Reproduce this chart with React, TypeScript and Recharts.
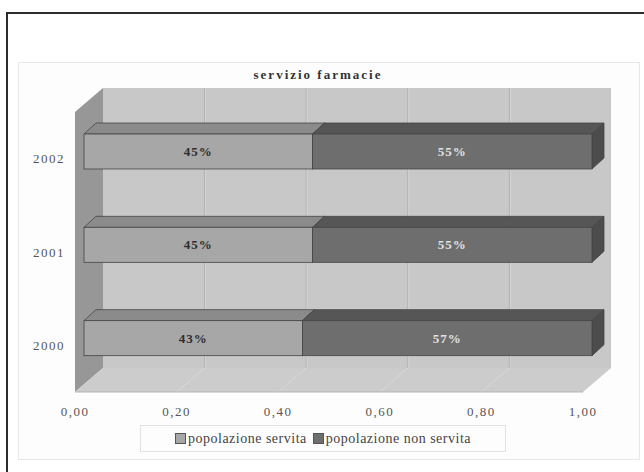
import { BarChart, Bar, XAxis, YAxis, ReferenceArea, Legend, LabelList } from 'recharts';

// servizio farmacie: share of population served, per year
const years = ['2002', '2001', '2000'];
const servita = [0.45, 0.45, 0.43];
const nonServita = [0.55, 0.55, 0.57];
const xTicks = [0, 0.2, 0.4, 0.6, 0.8, 1];
const seriesNames = ['popolazione servita', 'popolazione non servita'];

const data = years.map((anno, i) => ({ anno, servita: servita[i], nonServita: nonServita[i] }));

const SERIF = '"Liberation Serif", "Times New Roman", serif';

// 3D box depth (walls) and the offset of the bars inside the box
const WALL_DX = 28;
const WALL_DY = 24;
const BAR_DX = 9;
const BAR_DY = -7;
const DEPTH_X = 12;
const DEPTH_Y = 11;

const fmtTick = (v: number) => v.toFixed(2).replace('.', ',');

function Box3D(props: any) {
  const { x, y, width, height } = props;
  const bx = x + WALL_DX;
  const by = y - WALL_DY;
  const bottom = y + height;
  return (
    <g>
      <rect x={bx} y={by} width={width} height={height} fill="#c8c8c8" />
      {xTicks.slice(1, -1).map((t) => (
        <g key={t}>
          <line x1={bx + t * width} y1={by} x2={bx + t * width} y2={by + height} stroke="#b0b0b0" strokeWidth={1} />
          <line x1={bx + t * width + 1} y1={by} x2={bx + t * width + 1} y2={by + height} stroke="#d4d4d4" strokeWidth={1} />
        </g>
      ))}
      <polygon
        points={`${x},${y} ${bx},${by} ${bx},${by + height} ${x},${bottom}`}
        fill="#979797"
      />
      <polygon
        points={`${x},${bottom} ${x + width},${bottom} ${bx + width},${by + height} ${bx},${by + height}`}
        fill="#cccccc"
      />
      {xTicks.slice(1, -1).map((t) => (
        <line
          key={`f${t}`}
          x1={x + t * width}
          y1={bottom}
          x2={bx + t * width}
          y2={by + height}
          stroke="#d9d9d9"
          strokeWidth={1}
        />
      ))}
      <line x1={x} y1={bottom} x2={x + width} y2={bottom} stroke="#b5b5b5" strokeWidth={1} />
    </g>
  );
}

function Bar3D(props: any) {
  const { x, y, width, height, front, top, side } = props;
  if (!width || !height) return null;
  const fx = x + BAR_DX;
  const fy = y + BAR_DY;
  const stroke = '#454545';
  return (
    <g>
      <polygon
        points={`${fx},${fy} ${fx + DEPTH_X},${fy - DEPTH_Y} ${fx + width + DEPTH_X},${fy - DEPTH_Y} ${fx + width},${fy}`}
        fill={top}
        stroke={stroke}
        strokeWidth={0.8}
      />
      <polygon
        points={`${fx + width},${fy} ${fx + width + DEPTH_X},${fy - DEPTH_Y} ${fx + width + DEPTH_X},${fy + height - DEPTH_Y} ${fx + width},${fy + height}`}
        fill={side}
        stroke={stroke}
        strokeWidth={0.8}
      />
      <rect x={fx} y={fy} width={width} height={height} fill={front} stroke={stroke} strokeWidth={0.8} />
    </g>
  );
}

const pctLabel = (color: string) => (p: any) => {
  const { x, y, width, height, value } = p;
  return (
    <text
      x={x + width / 2 + BAR_DX}
      y={y + height / 2 + BAR_DY}
      textAnchor="middle"
      dominantBaseline="central"
      fill={color}
      fontSize={13}
      letterSpacing={1}
      fontWeight="bold"
      style={{ fontFamily: SERIF }}
    >
      {Math.round(value * 100)}%
    </text>
  );
};

function XTick(p: any) {
  return (
    <text x={p.x} y={p.y + 10} textAnchor="middle" fill="#555" fontSize={13} letterSpacing={1.5} style={{ fontFamily: SERIF }}>
      {fmtTick(p.payload.value)}
    </text>
  );
}

function YTick(p: any) {
  return (
    <text x={p.x} y={p.y} textAnchor="end" dominantBaseline="central" fill="#555" fontSize={13} letterSpacing={1.5} style={{ fontFamily: SERIF }}>
      {p.payload.value}
    </text>
  );
}

function LegendBox(props: any) {
  const items = [...(props.payload || [])].sort(
    (a: any, b: any) => seriesNames.indexOf(a.value) - seriesNames.indexOf(b.value)
  );
  return (
    <div
      style={{
        display: 'flex',
        justifyContent: 'center',
        alignItems: 'center',
        gap: 6,
        height: 25,
        border: '1px solid #e2e2e2',
        fontFamily: SERIF,
        fontSize: 14,
        letterSpacing: 0.5,
        color: '#444',
      }}
    >
      {items.map((item: any) => (
        <span key={item.value} style={{ display: 'flex', alignItems: 'center' }}>
          <span
            style={{
              display: 'inline-block',
              width: 9,
              height: 9,
              background: item.color,
              border: '1px solid #555',
              marginRight: 2,
            }}
          />
          {item.value}
        </span>
      ))}
    </div>
  );
}

export default function App() {
  return (
    <div
      style={{
        position: 'absolute',
        left: 0,
        top: 0,
        width: 644,
        height: 472,
        overflow: 'hidden',
        background: '#fff',
        fontFamily: SERIF,
      }}
    >
      <div
        style={{
          position: 'absolute',
          left: 6,
          top: 12,
          width: 700,
          height: 500,
          borderTop: '2px solid #2c2c2c',
          borderLeft: '2px solid #2c2c2c',
        }}
      />
      <div
        style={{
          position: 'absolute',
          left: 18,
          top: 62,
          width: 620,
          height: 396,
          border: '1px solid #e8e8e8',
          background: '#fdfdfd',
        }}
      />
      <div
        style={{
          position: 'absolute',
          left: 218,
          top: 67,
          width: 200,
          textAlign: 'center',
          fontWeight: 'bold',
          fontSize: 13,
          letterSpacing: 2,
          color: '#333',
        }}
      >
        servizio farmacie
      </div>
      <div style={{ position: 'absolute', left: 0, top: 0 }}>
        <BarChart
          width={644}
          height={472}
          data={data}
          layout="vertical"
          margin={{ top: 112, right: 61, bottom: 50, left: 25 }}
          barSize={35}
          style={{ fontFamily: SERIF }}
        >
          <ReferenceArea x1={0} x2={1} shape={<Box3D />} ifOverflow="visible" />
          <XAxis
            type="number"
            domain={[0, 1]}
            ticks={xTicks}
            height={30}
            tickLine={false}
            axisLine={false}
            tickMargin={8}
            tick={<XTick />}
          />
          <YAxis
            type="category"
            dataKey="anno"
            width={50}
            tickLine={false}
            axisLine={false}
            tickMargin={4}
            tick={<YTick />}
          />
          <Legend
            verticalAlign="middle"
            align="center"
            layout="horizontal"
            wrapperStyle={{ top: 425, left: 140, width: 366 }}
            content={<LegendBox />}
          />
          <Bar
            dataKey="servita"
            name={seriesNames[0]}
            stackId="a"
            fill="#a7a7a7"
            isAnimationActive={false}
            shape={(p: any) => <Bar3D {...p} front="#a7a7a7" top="#8b8b8b" side="#787878" />}
          >
            <LabelList dataKey="servita" content={pctLabel('#2e2e2e')} />
          </Bar>
          <Bar
            dataKey="nonServita"
            name={seriesNames[1]}
            stackId="a"
            fill="#6e6e6e"
            isAnimationActive={false}
            shape={(p: any) => <Bar3D {...p} front="#6e6e6e" top="#565656" side="#4c4c4c" />}
          >
            <LabelList dataKey="nonServita" content={pctLabel('#e2e2e2')} />
          </Bar>
        </BarChart>
      </div>
    </div>
  );
}
